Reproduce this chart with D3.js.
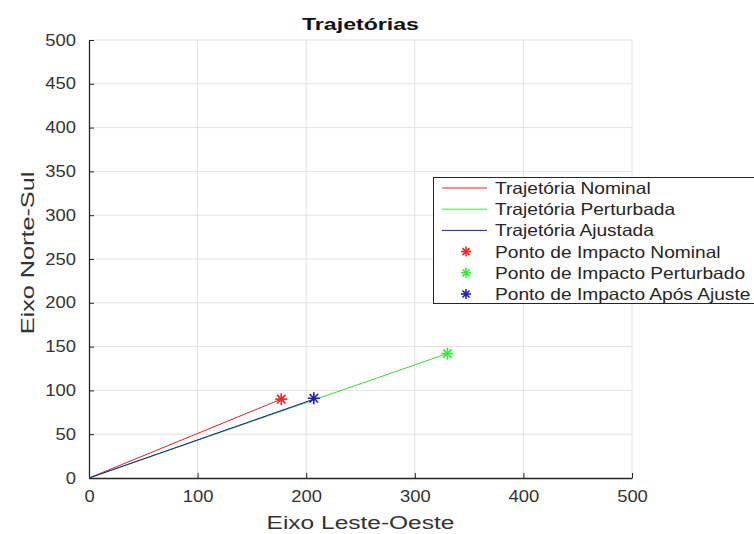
<!DOCTYPE html>
<html>
<head>
<meta charset="utf-8">
<script src="https://cdn.jsdelivr.net/npm/d3@7"></script>
<style>
  body { margin: 0; background: #fff; }
  text { font-family: "Liberation Sans", Arial, sans-serif; }
</style>
</head>
<body>
<svg id="chart" width="754" height="534"></svg>
<script>
// data
const xTicks = [0, 100, 200, 300, 400, 500];
const yTicks = [0, 50, 100, 150, 200, 250, 300, 350, 400, 450, 500];

const nominalPath = [[0, 0], [177, 90]];
const perturbedPath = [[0, 0], [330, 142]];
const adjustedPath = [[0, 0], [207, 90]];

const impactNames = ["Nominal", "Perturbado", "Após Ajuste"];
const impactX = [177, 330, 207];
const impactY = [90, 142, 91];
const impactColors = ["#ff2020", "#33ee33", "#1a1acc"];

const legendLabels = [
  "Trajetória Nominal",
  "Trajetória Perturbada",
  "Trajetória Ajustada",
  "Ponto de Impacto Nominal",
  "Ponto de Impacto Perturbado",
  "Ponto de Impacto Após Ajuste"
];
const legendColors = ["#ff2020", "#33ee33", "#1a1acc", "#ff2020", "#33ee33", "#1a1acc"];

const svg = d3.select("#chart");
const plotL = 89, plotR = 632, plotT = 40, plotB = 478;

const x = d3.scaleLinear().domain([0, 500]).range([plotL, plotR]);
const y = d3.scaleLinear().domain([0, 500]).range([plotB, plotT]);

// the original text renders wider than Liberation Sans, stretch it a bit
function widen(sel, k) {
  sel.each(function() {
    const w = this.getComputedTextLength();
    d3.select(this).attr("textLength", w * k).attr("lengthAdjust", "spacingAndGlyphs");
  });
}

// grid
svg.append("g").selectAll("line").data(xTicks.slice(1)).enter().append("line")
  .attr("x1", d => x(d)).attr("x2", d => x(d))
  .attr("y1", plotT).attr("y2", plotB)
  .attr("stroke", "#e3e3e3").attr("stroke-width", 1);
svg.append("g").selectAll("line").data(yTicks.slice(1)).enter().append("line")
  .attr("x1", plotL).attr("x2", plotR)
  .attr("y1", d => y(d)).attr("y2", d => y(d))
  .attr("stroke", "#e3e3e3").attr("stroke-width", 1);

// axes
const xAxis = svg.append("g").attr("transform", `translate(0,${plotB})`)
  .call(d3.axisBottom(x).tickValues(xTicks).tickSizeInner(-5).tickSizeOuter(0).tickPadding(13));
const yAxis = svg.append("g").attr("transform", `translate(${plotL},0)`)
  .call(d3.axisLeft(y).tickValues(yTicks).tickSizeInner(-5).tickSizeOuter(0).tickPadding(13));
[xAxis, yAxis].forEach(a => {
  a.select(".domain").attr("stroke", "#262626").attr("stroke-width", 1.3);
  a.selectAll(".tick line").attr("stroke", "#262626");
  a.selectAll(".tick text").attr("font-size", 16).attr("fill", "#333")
    .attr("font-family", "'Liberation Sans', Arial, sans-serif");
  widen(a.selectAll(".tick text"), 1.15);
});

// lines
const line = d3.line().x(d => x(d[0])).y(d => y(d[1]));
svg.append("path").datum(nominalPath).attr("d", line)
  .attr("fill", "none").attr("stroke", "#e02020").attr("stroke-width", 1);
svg.append("path").datum(perturbedPath).attr("d", line)
  .attr("fill", "none").attr("stroke", "#33dd33").attr("stroke-width", 1);
svg.append("path").datum(adjustedPath).attr("d", line)
  .attr("fill", "none").attr("stroke", "#1a1a99").attr("stroke-width", 1);

// asterisk markers
function star(g, cx, cy, r, color) {
  const s = g.append("g").attr("transform", `translate(${cx},${cy})`)
    .attr("stroke", color).attr("stroke-width", 1.6);
  [0, 45, 90, 135].forEach(a => {
    const rad = a * Math.PI / 180;
    s.append("line")
      .attr("x1", -r * Math.cos(rad)).attr("y1", -r * Math.sin(rad))
      .attr("x2", r * Math.cos(rad)).attr("y2", r * Math.sin(rad));
  });
}
impactNames.forEach((n, i) => star(svg, x(impactX[i]), y(impactY[i]), 6, impactColors[i]));

// title and axis labels
const title = svg.append("text").attr("x", (plotL + plotR) / 2).attr("y", 30)
  .attr("text-anchor", "middle").attr("font-size", 17).attr("font-weight", "bold")
  .attr("fill", "#111").text("Trajetórias");
widen(title, 1.36);
const xLabel = svg.append("text").attr("x", (plotL + plotR) / 2).attr("y", 529)
  .attr("text-anchor", "middle").attr("font-size", 18).attr("fill", "#333")
  .text("Eixo Leste-Oeste");
widen(xLabel, 1.36);
const yLabel = svg.append("text").attr("transform", `translate(34,${(plotT + plotB) / 2 - 6}) rotate(-90)`)
  .attr("text-anchor", "middle").attr("font-size", 18).attr("fill", "#333")
  .text("Eixo Norte-Sul");
widen(yLabel, 1.4);

// legend
const lg = svg.append("g");
lg.append("rect").attr("x", 433.5).attr("y", 177.5).attr("width", 330).attr("height", 126)
  .attr("fill", "#fff").attr("stroke", "#262626").attr("stroke-width", 1);
legendLabels.forEach((t, i) => {
  const ly = 188 + i * 21.2;
  if (i < 3) {
    lg.append("line").attr("x1", 442).attr("x2", 487).attr("y1", ly).attr("y2", ly)
      .attr("stroke", legendColors[i]).attr("stroke-width", 1);
  } else {
    star(lg, 466, ly, 5, legendColors[i]);
  }
  const lt = lg.append("text").attr("x", 495).attr("y", ly + 6).attr("font-size", 16.5)
    .attr("fill", "#262626").text(t);
  widen(lt, 1.16);
});
</script>
</body>
</html>
